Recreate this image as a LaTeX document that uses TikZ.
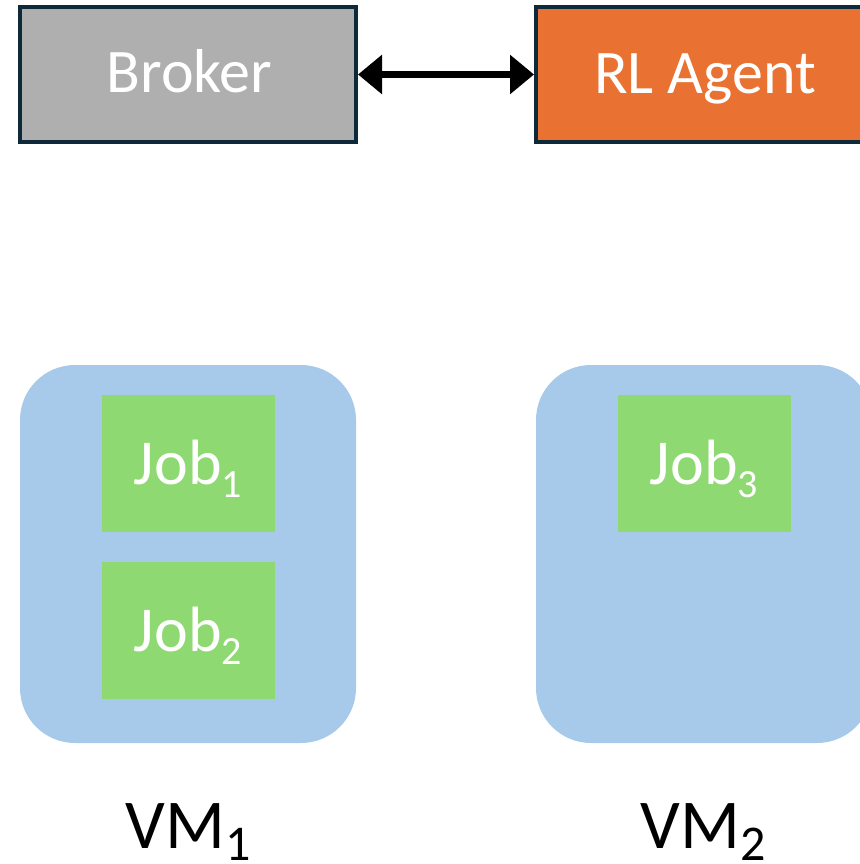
\documentclass[tikz,border=0pt]{standalone}
\usepackage{fontspec}
\setmainfont{Carlito}
\usetikzlibrary{arrows.meta}
\definecolor{brokergray}{HTML}{AFAFAF}
\definecolor{agentorange}{HTML}{E97132}
\definecolor{boxborder}{HTML}{0E2A3A}
\definecolor{vmblue}{HTML}{A7CAEB}
\definecolor{jobgreen}{HTML}{8FD973}
\tikzset{
  topbox/.style={draw=boxborder, line width=4pt, minimum width=336pt, minimum height=135pt, inner sep=0pt},
  toptext/.style={text=white, anchor=base, inner sep=0pt, font=\fontsize{62}{62}\selectfont},
  vmbox/.style={fill=vmblue, rounded corners=55pt, minimum width=336pt, minimum height=378pt, inner sep=0pt},
  jobbox/.style={fill=jobgreen, minimum width=173pt, minimum height=137pt, inner sep=0pt},
  jobtext/.style={text=white, anchor=base, inner sep=0pt, font=\fontsize{64}{64}\selectfont},
  vmtext/.style={text=black, anchor=base, inner sep=0pt, font=\fontsize{70}{70}\selectfont},
  link/.style={line width=7.5pt, {Triangle[length=24pt,width=38pt]}-{Triangle[length=24pt,width=38pt]}}
}
\newcommand{\jobsub}[1]{\raisebox{-13pt}{\fontsize{40}{40}\selectfont #1}}
\newcommand{\vmsub}[1]{\raisebox{-12pt}{\fontsize{50}{50}\selectfont #1}}
\begin{document}
\begin{tikzpicture}[x=1pt,y=-1pt]
\useasboundingbox (0,0) rectangle (859,864);
% top boxes
\node[topbox, fill=brokergray] (broker) at (188,74.5) {};
\node[toptext] (brokert) at (189.5,93) {Broker};
\node[topbox, fill=agentorange] (agent) at (704,74.5) {};
\node[toptext] (agentt) at (705,93.5) {RL Agent};
\draw[link] (broker.east) -- (agent.west);
% VMs
\node[vmbox] (vm1) at (188,554) {};
\node[vmbox] (vm2) at (704,554) {};
\node[jobbox] (job1) at (188.5,463.5) {};
\node[jobbox] (job2) at (188.5,630.5) {};
\node[jobbox] (job3) at (704.5,463.5) {};
\node[jobtext] (job1t) at (188,484) {Job\jobsub{1}};
\node[jobtext] (job2t) at (188,651) {Job\jobsub{2}};
\node[jobtext] (job3t) at (704,484) {Job\jobsub{3}};
\node[vmtext] (vm1t) at (188,848) {VM\vmsub{1}};
\node[vmtext] (vm2t) at (703,848) {VM\vmsub{2}};
\end{tikzpicture}
\end{document}
